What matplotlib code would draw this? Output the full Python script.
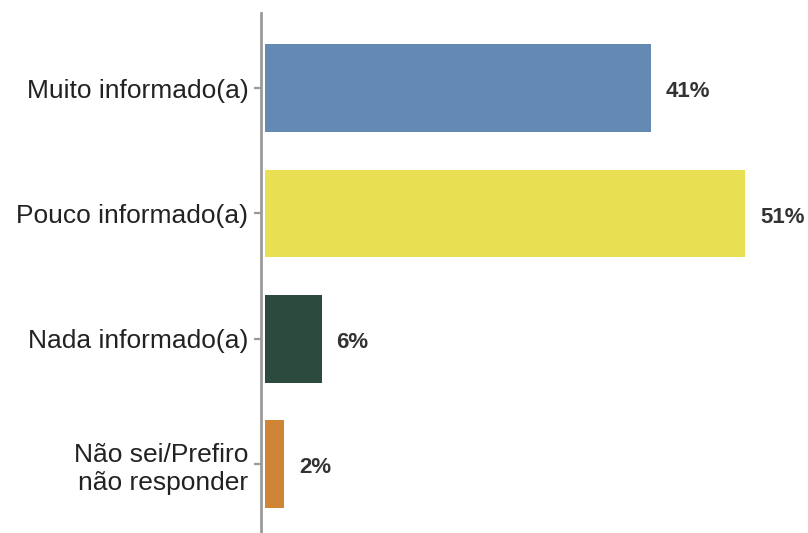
import matplotlib.pyplot as plt

categories = ["Muito informado(a)", "Pouco informado(a)", "Nada informado(a)",
              "Não sei/Prefiro\nnão responder"]
values = [41, 51, 6, 2]
colors = ["#6489b2", "#e8df52", "#2c4a3d", "#d08536"]
labels = ["41%", "51%", "6%", "2%"]

plt.rcParams['font.family'] = ['Liberation Sans', 'DejaVu Sans']

fig = plt.figure(figsize=(8.08, 5.33), dpi=100)
ax = fig.add_axes([261 / 808, 0, 1 - 261 / 808, 1 - 13 / 533])

pos = list(range(len(categories)))
ax.barh(pos, values, height=0.7, color=colors)
for p, v, t in zip(pos, values, labels):
    ax.text(v + 1.6, p + 0.03, t, va='center', ha='left', fontsize=16,
            fontweight='bold', color='#333333')

ax.set_xlim(-0.43, 57.7)
ax.set_ylim(3.55, -0.6)
ax.set_yticks(pos)
ax.set_yticklabels(categories, fontsize=19, color='#222222', linespacing=1.25)
ax.set_xticks([])
for s in ['top', 'right', 'bottom']:
    ax.spines[s].set_visible(False)
ax.spines['left'].set_color('#9a9a9a')
ax.spines['left'].set_linewidth(2.0)
ax.tick_params(axis='y', length=5, width=1.6, color='#9a9a9a', pad=4)

fig.savefig('out.png', dpi=100)
